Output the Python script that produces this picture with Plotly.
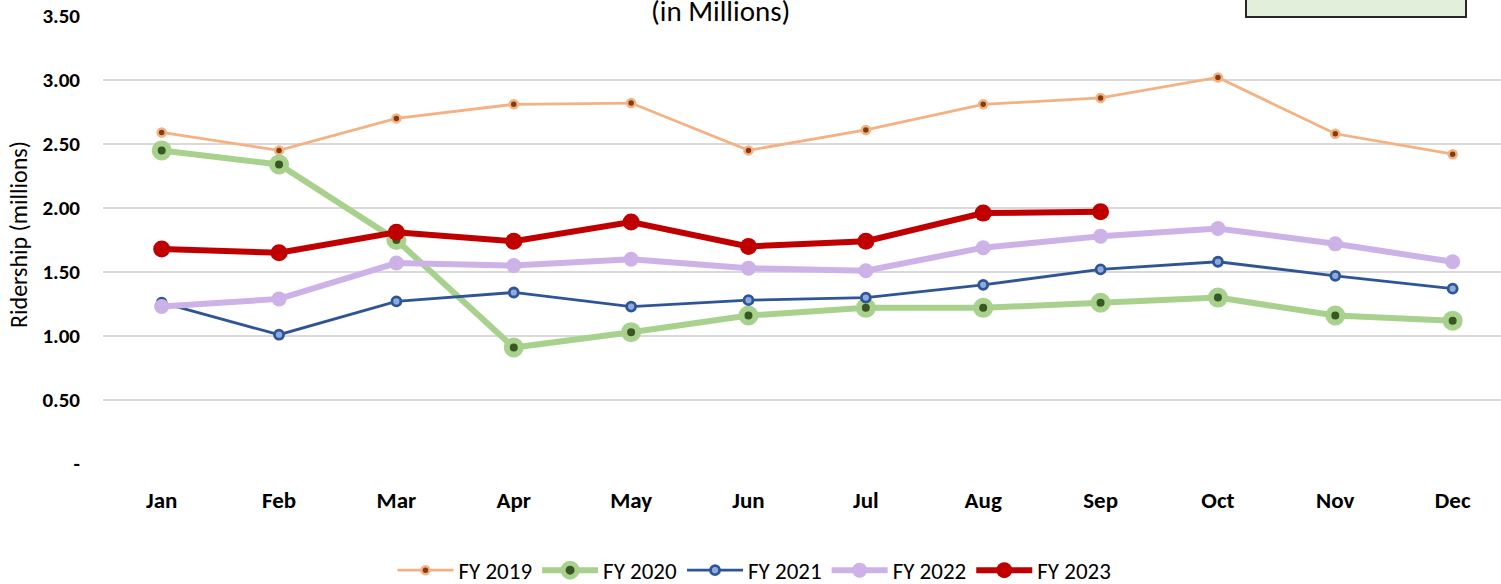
import plotly.graph_objects as go

months = ["Jan", "Feb", "Mar", "Apr", "May", "Jun", "Jul", "Aug", "Sep", "Oct", "Nov", "Dec"]
fy2019 = [2.59, 2.45, 2.70, 2.81, 2.82, 2.45, 2.61, 2.81, 2.86, 3.02, 2.58, 2.42]
fy2020 = [2.45, 2.34, 1.75, 0.91, 1.03, 1.16, 1.22, 1.22, 1.26, 1.30, 1.16, 1.12]
fy2021 = [1.26, 1.01, 1.27, 1.34, 1.23, 1.28, 1.30, 1.40, 1.52, 1.58, 1.47, 1.37]
fy2022 = [1.23, 1.29, 1.57, 1.55, 1.60, 1.53, 1.51, 1.69, 1.78, 1.84, 1.72, 1.58]
fy2023 = [1.68, 1.65, 1.81, 1.74, 1.89, 1.70, 1.74, 1.96, 1.97]
ytick_vals = [0, 0.5, 1.0, 1.5, 2.0, 2.5, 3.0, 3.5]
ytick_text = ["-", "0.50", "1.00", "1.50", "2.00", "2.50", "3.00", "3.50"]

FONT = "Carlito, Lato, 'Open Sans', sans-serif"

fig = go.Figure()
fig.add_trace(go.Scatter(
    x=months, y=fy2019, name="FY 2019", mode="lines+markers",
    line=dict(color="#F4B183", width=2.8),
    marker=dict(size=8, color="#843C0C", line=dict(color="#F4B183", width=2.5)),
))
fig.add_trace(go.Scatter(
    x=months, y=fy2020, name="FY 2020", mode="lines+markers",
    line=dict(color="#A9D18E", width=6),
    marker=dict(size=14, color="#385723", line=dict(color="#A9D18E", width=6)),
))
fig.add_trace(go.Scatter(
    x=months, y=fy2021, name="FY 2021", mode="lines+markers",
    line=dict(color="#2F5597", width=2.8),
    marker=dict(size=9, color="#8FAADC", line=dict(color="#2F5597", width=2.8)),
))
fig.add_trace(go.Scatter(
    x=months, y=fy2022, name="FY 2022", mode="lines+markers",
    line=dict(color="#CDB2E8", width=6),
    marker=dict(size=15, color="#CDB2E8", line=dict(color="#CDB2E8", width=0)),
))
fig.add_trace(go.Scatter(
    x=months[:len(fy2023)], y=fy2023, name="FY 2023", mode="lines+markers",
    line=dict(color="#C00000", width=6),
    marker=dict(size=17, color="#C00000", line=dict(color="#C00000", width=0)),
))

fig.update_layout(
    width=1501, height=584,
    margin=dict(l=103, r=0, t=16, b=120, autoexpand=False),
    paper_bgcolor="white", plot_bgcolor="white",
    font=dict(family=FONT, color="#000000"),
    showlegend=True,
    legend=dict(
        orientation="h", x=0.466, xanchor="center", y=-0.237, yanchor="middle",
        font=dict(size=23, family=FONT, color="#000000"),
        itemwidth=56, tracegroupgap=0,
    ),
    xaxis=dict(
        type="category", categoryarray=months, range=[-0.5, 11.412],
        showgrid=False, zeroline=False, showline=False, automargin=False,
        tickfont=dict(size=23, family=FONT, color="#000000", weight="bold"),
        ticks="", ticklabelstandoff=20,
    ),
    yaxis=dict(
        range=[0, 3.5], tickvals=ytick_vals, ticktext=ytick_text,
        showgrid=True, gridcolor="#D9D9D9", gridwidth=1.5,
        zeroline=False, showline=False, automargin=False,
        tickfont=dict(size=21, family=FONT, color="#000000", weight="bold"),
        ticks="", ticklabelstandoff=22,
    ),
    shapes=[dict(
        type="rect", xref="paper", yref="paper",
        x0=(1246 - 103) / 1398, x1=(1466 - 103) / 1398,
        y0=(464 - 17) / 448, y1=1.08,
        fillcolor="#E2EFDA", line=dict(color="#262626", width=2),
    )],
    annotations=[
        dict(
            text="(in Millions)", xref="paper", yref="paper",
            x=(720 - 103) / 1398, y=(464 - 11) / 448, xanchor="center", yanchor="middle",
            showarrow=False, font=dict(size=29, family=FONT, color="#000000"),
        ),
        dict(
            text="Ridership (millions)", xref="paper", yref="paper", textangle=-90,
            x=(18 - 103) / 1398, y=(464 - 235) / 448, xanchor="center", yanchor="middle",
            showarrow=False, font=dict(size=24, family=FONT, color="#000000"),
        ),
    ],
)

fig.write_html(
    "out.html",
    config={"displayModeBar": False},
    post_script="document.body.style.margin='0';document.body.style.overflow='hidden';",
)
